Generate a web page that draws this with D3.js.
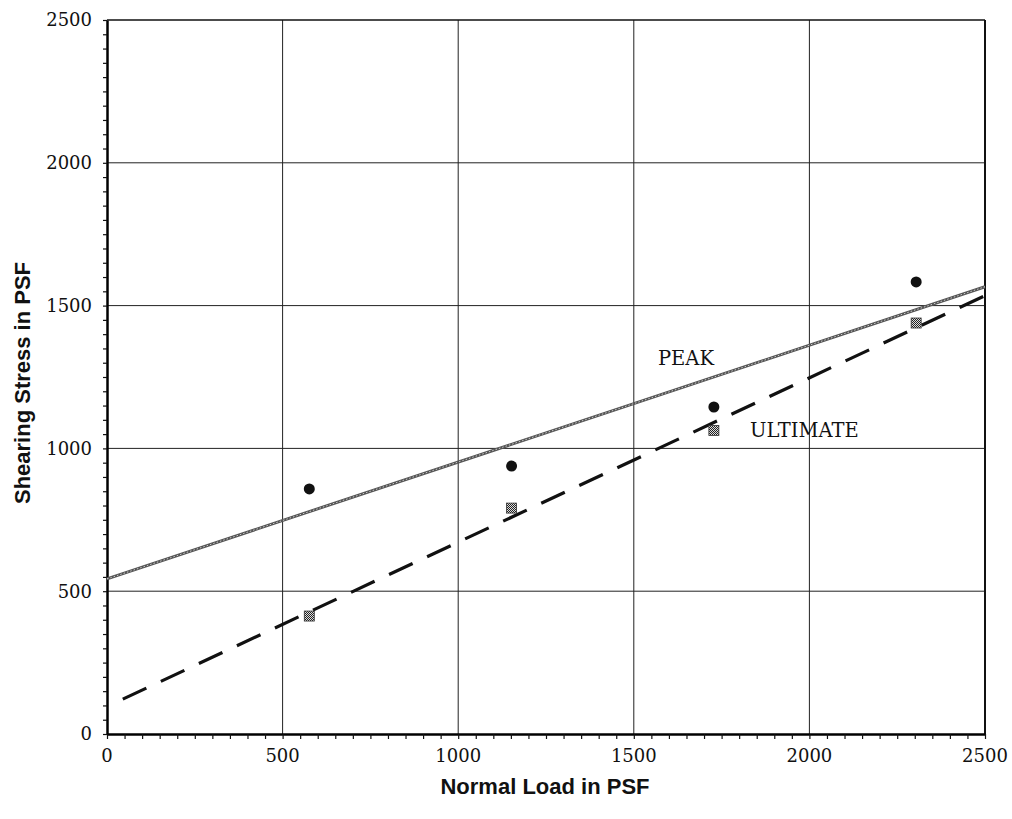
<!DOCTYPE html>
<meta charset="utf-8">
<html>
  <head>
    <style>
      body { margin: 0; background: #fff; }
      .tick-label { font-family: "DejaVu Serif", serif; font-size: 18px; fill: #111; }
      .axis-title { font-family: "Liberation Sans", Arial, sans-serif; font-size: 22px; font-weight: bold; fill: #111; }
      .line-label { font-family: "DejaVu Serif", serif; font-size: 19.5px; fill: #111; }
    </style>
  </head>
  <body>
    <div id="chart"></div>
  </body>
<script src="https://d3js.org/d3.v7.min.js"></script>
<script>
// normal loads used in the shear tests (psf)
var loads = [576, 1152, 1728, 2304]
// measured shearing stress (psf)
var peakStress = [858, 938, 1145, 1583]
var ultimateStress = [413, 791, 1063, 1439]
var peakFit = [[0, 543], [2500, 1566]]
var ultimateFit = [[45, 122], [2500, 1535]]

var xTicks = [0, 500, 1000, 1500, 2000, 2500]
var yTicks = [0, 500, 1000, 1500, 2000, 2500]

var width = 1012, height = 819
var plot = {left: 107, right: 985, top: 20, bottom: 734}

var svg = d3.select("#chart")
  .append("svg")
    .attr("width", width)
    .attr("height", height)

// checker pattern for the ultimate markers
var defs = svg.append("defs")
var pat = defs.append("pattern")
    .attr("id", "checker")
    .attr("width", 2)
    .attr("height", 2)
    .attr("patternUnits", "userSpaceOnUse")
pat.append("rect").attr("width", 2).attr("height", 2).attr("fill", "#ddd")
pat.append("rect").attr("width", 1).attr("height", 1).attr("fill", "#222")
pat.append("rect").attr("x", 1).attr("y", 1).attr("width", 1).attr("height", 1).attr("fill", "#222")

var x = d3.scaleLinear().domain([0, 2500]).range([plot.left, plot.right])
var y = d3.scaleLinear().domain([0, 2500]).range([plot.bottom, plot.top])

// grid lines
svg.append("g")
  .selectAll("line")
  .data(xTicks.slice(1, -1))
  .enter().append("line")
    .attr("x1", function(d) { return x(d) })
    .attr("x2", function(d) { return x(d) })
    .attr("y1", plot.top)
    .attr("y2", plot.bottom)
    .style("stroke", "#222")
    .style("stroke-width", 1)
svg.append("g")
  .selectAll("line")
  .data(yTicks.slice(1, -1))
  .enter().append("line")
    .attr("y1", function(d) { return y(d) })
    .attr("y2", function(d) { return y(d) })
    .attr("x1", plot.left)
    .attr("x2", plot.right)
    .style("stroke", "#222")
    .style("stroke-width", 1)

// frame: top and right
svg.append("line")
  .attr("x1", plot.left).attr("x2", plot.right)
  .attr("y1", plot.top).attr("y2", plot.top)
  .style("stroke", "#111").style("stroke-width", 1.5)
svg.append("line")
  .attr("x1", plot.right).attr("x2", plot.right)
  .attr("y1", plot.top).attr("y2", plot.bottom)
  .style("stroke", "#111").style("stroke-width", 2)

// minor ticks every 50
var xAxis = svg.append("g")
  .attr("transform", "translate(0," + plot.bottom + ")")
  .call(d3.axisBottom(x).tickValues(d3.range(0, 2501, 50)).tickSize(5).tickSizeOuter(0).tickFormat(""))
var yAxis = svg.append("g")
  .attr("transform", "translate(" + plot.left + ",0)")
  .call(d3.axisLeft(y).tickValues(d3.range(0, 2501, 50)).tickSize(4).tickSizeOuter(0).tickFormat(""))
xAxis.select(".domain").style("stroke", "#000").style("stroke-width", 2.5)
yAxis.select(".domain").style("stroke", "#000").style("stroke-width", 2.5)
svg.selectAll(".tick line").style("stroke", "#111").style("stroke-width", 1.2)

// tick labels
svg.append("g")
  .selectAll("text")
  .data(xTicks)
  .enter().append("text")
    .attr("class", "tick-label")
    .attr("x", function(d) { return x(d) })
    .attr("y", 762)
    .attr("text-anchor", "middle")
    .text(function(d) { return d })
svg.append("g")
  .selectAll("text")
  .data(yTicks)
  .enter().append("text")
    .attr("class", "tick-label")
    .attr("x", 92)
    .attr("y", function(d) { return y(d) })
    .attr("dy", "0.36em")
    .attr("text-anchor", "end")
    .text(function(d) { return d })

// axis titles
svg.append("text")
  .attr("class", "axis-title")
  .attr("x", 545)
  .attr("y", 794)
  .attr("text-anchor", "middle")
  .text("Normal Load in PSF")
svg.append("text")
  .attr("class", "axis-title")
  .attr("transform", "translate(30,383) rotate(-90)")
  .attr("text-anchor", "middle")
  .text("Shearing Stress in PSF")

var line = d3.line()
  .x(function(d) { return x(d[0]) })
  .y(function(d) { return y(d[1]) })

// peak envelope (grey textured solid line)
svg.append("path")
  .datum(peakFit)
  .attr("d", line)
  .style("fill", "none")
  .style("stroke", "#555")
  .style("stroke-width", 3)
svg.append("path")
  .datum(peakFit)
  .attr("d", line)
  .style("fill", "none")
  .style("stroke", "#ccc")
  .style("stroke-width", 1)
  .style("stroke-dasharray", "1.5,2")

// ultimate envelope (dashed)
svg.append("path")
  .datum(ultimateFit)
  .attr("d", line)
  .style("fill", "none")
  .style("stroke", "#111")
  .style("stroke-width", 3.2)
  .style("stroke-dasharray", "26,16")

// markers
svg.append("g")
  .selectAll("circle")
  .data(loads)
  .enter().append("circle")
    .attr("cx", function(d) { return x(d) })
    .attr("cy", function(d, i) { return y(peakStress[i]) })
    .attr("r", 5.5)
    .style("fill", "#111")
svg.append("g")
  .selectAll("rect")
  .data(loads)
  .enter().append("rect")
    .attr("x", function(d) { return x(d) - 5 })
    .attr("y", function(d, i) { return y(ultimateStress[i]) - 5 })
    .attr("width", 10)
    .attr("height", 10)
    .style("fill", "url(#checker)")
    .style("stroke", "#333")
    .style("stroke-width", 0.8)

// line labels
svg.append("text")
  .attr("class", "line-label")
  .attr("x", 658)
  .attr("y", 365)
  .text("PEAK")
svg.append("text")
  .attr("class", "line-label")
  .attr("x", 750)
  .attr("y", 437)
  .text("ULTIMATE")
</script>
</html>
